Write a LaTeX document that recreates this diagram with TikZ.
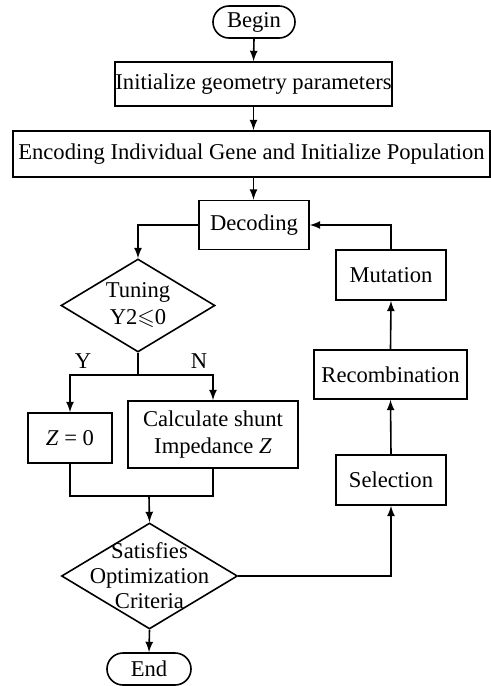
\documentclass[tikz,border=0pt]{standalone}
\usepackage{amssymb}
\usepackage{fontspec}
\setmainfont{Liberation Serif}
\usetikzlibrary{arrows, shapes.geometric}

\begin{document}
\begin{tikzpicture}[x=0.5pt, y=-0.5pt, >=latex, line width=0.8pt,
    font=\fontsize{11.3}{13.5}\selectfont,
    box/.style={draw, rectangle, inner sep=0pt, align=center},
    terminal/.style={draw, rectangle, rounded corners=8pt, inner sep=0pt,
    minimum width=41pt, minimum height=16pt},
    decision/.style={draw, diamond, inner sep=0pt}]

    \useasboundingbox (0,0) rectangle (491,686);

    % Main column node(s)
    \node[terminal] (begin) at (254,22) {Begin};
    \node[box, minimum width=138.5pt, minimum height=22pt] (init) at (253.5,84)
    {Initialize geometry parameters};
    \node[box, minimum width=238.5pt, minimum height=23pt] (encode) at (251.5,154)
    {Encoding Individual Gene and Initialize Population};
    \node[box, minimum width=55pt, minimum height=24.5pt] (decode) at (254,225)
    {Decoding};

    % Branch node(s) and label(s)
    \node[decision, minimum width=77pt, minimum height=46.5pt,
    label={[align=center]center:Tuning\\Y2$\leqslant$0}] (tune) at (138,305.5) {};
    \node (yes) at (83,361) {Y};
    \node (no) at (199,361) {N};
    \node[box, minimum width=42pt, minimum height=25pt] (zero) at (70,438)
    {\textit{Z} = 0};
    \node[box, minimum width=85pt, minimum height=33.5pt] (calc) at (213,434.5)
    {Calculate shunt\\Impedance \textit{Z}};
    \node[decision, minimum width=88pt, minimum height=53pt,
    label={[align=center, font=\fontsize{11.3}{12.5}\selectfont]center:
    Satisfies\\Optimization\\Criteria}] (sat) at (149.5,576) {};
    \node[terminal, minimum width=42pt] (stop) at (149,669) {End};

    % Genetic loop node(s)
    \node[box, minimum width=55pt, minimum height=25pt] (select) at (391,480)
    {Selection};
    \node[box, minimum width=76.5pt, minimum height=24.5pt] (recomb) at (390.5,374.5)
    {Recombination};
    \node[box, minimum width=55pt, minimum height=25pt] (mutate) at (391,275)
    {Mutation};

    % Wire junction(s)
    \coordinate (split) at (138,375);
    \coordinate (join) at (149,496);

    % Wire(s) arrow(s)
    \draw[->] (begin.south) -- (init.north);
    \draw[->] (init.south) -- (init.south |- encode.north);
    \draw[->] (init.south |- encode.south) -- (init.south |- decode.north);
    \draw[->] (decode.west) -| (tune.north);
    \draw (tune.south) -- (split);
    \draw[->] (split) -| (zero.north);
    \draw[->] (split) -| (calc.north);
    \draw (zero.south) |- (join);
    \draw (calc.south) |- (join);
    \draw[->] (join) -- (sat.north);
    \draw[->] (sat.south) -- (stop.north);
    \draw[->] (sat.east) -| (select.south);
    \draw[->] (select.north) -- (recomb.south);
    \draw[->] (recomb.north) -- (mutate.south);
    \draw[->] (mutate.north) |- (decode.east);

\end{tikzpicture}
\end{document}
